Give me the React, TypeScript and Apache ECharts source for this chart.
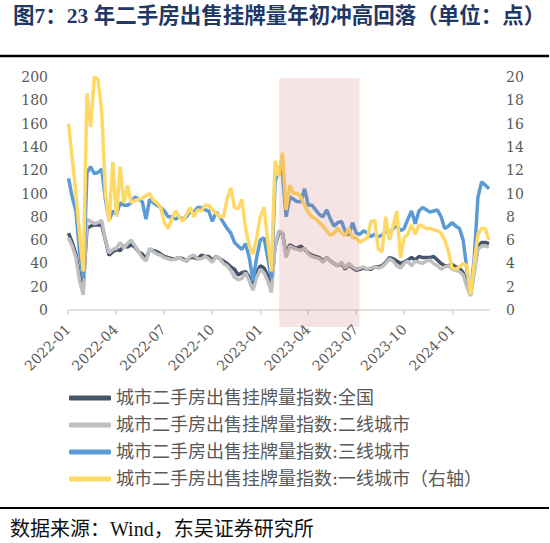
import React, { useEffect, useRef } from "react";
import * as echarts from "echarts";

const startDate = "2022-01-02"; // first weekly observation (Sunday)
const weekCount = 115;

// 城市二手房出售挂牌量指数:全国 (left axis)
const nationalData = [
  66, 58, 48, 30, 20, 70, 72, 73, 73, 73, 60, 47, 50, 52, 51, 55, 54, 56, 54, 50,
  48, 44, 52, 51, 50, 48, 46, 45, 44, 44, 45, 44, 42, 45, 45, 44, 47, 46, 46, 43,
  46, 44, 42, 40, 37, 35, 30, 32, 33, 28, 22, 32, 38, 36, 30, 20, 55, 66, 66, 48,
  56, 54, 53, 55, 52, 49, 47, 46, 45, 42, 45, 42, 40, 38, 40, 35, 39, 36, 34, 35,
  36, 35, 35, 37, 37, 38, 41, 45, 44, 42, 40, 41, 43, 45, 43, 46, 45, 45, 45, 46,
  43, 40, 38, 38, 39, 37, 36, 32, 22, 13, 35, 55, 58, 58, 57,
];

// 城市二手房出售挂牌量指数:二线城市 (left axis)
const tier2Data = [
  62, 55, 45, 25, 13, 78, 76, 74, 75, 77, 60, 49, 52, 53, 58, 53, 57, 60, 55, 50,
  45, 42, 53, 50, 48, 47, 45, 44, 43, 44, 45, 43, 42, 46, 47, 44, 44, 46, 44, 41,
  46, 44, 40, 38, 34, 28, 26, 27, 32, 25, 17, 28, 35, 32, 25, 15, 55, 68, 66, 45,
  55, 53, 52, 51, 53, 48, 46, 45, 44, 41, 45, 42, 40, 38, 41, 36, 40, 37, 35, 36,
  37, 35, 36, 37, 36, 37, 40, 44, 42, 38, 36, 40, 42, 38, 42, 41, 40, 42, 43, 40,
  38, 35, 37, 38, 35, 34, 33, 30, 20, 12, 32, 52, 55, 55, 54,
];

// 城市二手房出售挂牌量指数:三线城市 (left axis)
const tier3Data = [
  113, 97, 85, 50, 27, 118, 123, 117, 118, 121, 95, 77, 85, 82, 92, 90, 90, 92, 97, 95,
  93, 78, 95, 92, 90, 88, 85, 80, 80, 78, 80, 78, 80, 85, 84, 88, 88, 86, 85, 76,
  84, 80, 75, 70, 66, 58, 55, 52, 57, 45, 25, 45, 60, 62, 45, 27, 110, 120, 118, 80,
  97, 95, 93, 93, 104, 90, 90, 86, 82, 80, 86, 78, 72, 75, 76, 68, 64, 75, 66, 65,
  68, 66, 63, 65, 63, 64, 68, 66, 70, 72, 68, 70, 78, 85, 74, 85, 88, 86, 84, 85,
  86, 80, 70, 72, 75, 72, 70, 60, 35, 14, 45, 97, 110, 107, 104,
];

// 城市二手房出售挂牌量指数:一线城市 (right axis)
const tier1Data = [
  16.0, 13.0, 10.0, 6.5, 3.3, 18.6, 15.7, 20.0, 19.8, 17.0, 10.0, 7.6, 12.7, 8.0, 12.3, 9.2, 10.7, 9.2, 9.4, 9.5,
  9.6, 9.8, 10.0, 9.4, 9.2, 8.8, 7.5, 7.0, 7.8, 8.5, 8.0, 7.6, 8.2, 8.8, 8.0, 8.6, 8.5, 9.0, 9.0, 8.6,
  8.3, 8.0, 8.0, 9.5, 10.5, 8.8, 8.7, 9.5, 7.0, 5.5, 4.8, 6.2, 8.0, 8.8, 6.0, 3.3, 12.8, 11.5, 13.5, 8.6,
  10.7, 10.0, 10.0, 9.7, 9.0, 8.4, 8.0, 7.8, 7.5, 7.2, 6.8, 6.4, 6.6, 7.0, 6.6, 6.4, 7.0, 6.2, 6.2, 5.8,
  6.0, 6.2, 7.6, 7.7, 5.2, 5.0, 8.0, 6.0, 7.2, 8.5, 4.5, 6.2, 6.5, 7.3, 6.5, 7.3, 7.2, 7.0, 7.0, 6.9,
  6.8, 6.6, 6.0, 5.0, 3.6, 3.5, 3.7, 4.0, 3.8, 1.3, 4.0, 6.5, 7.0, 7.0, 6.0,
];

const quarterTicks = [
  "2022-01-01", "2022-04-01", "2022-07-01", "2022-10-01",
  "2023-01-01", "2023-04-01", "2023-07-01", "2023-10-01", "2024-01-01",
];
const axisMin = "2022-01-01";
const axisMax = "2024-03-10";
const shadeFrom = "2023-02-06";
const shadeTo = "2023-07-08";

const leftMax = 200;
const rightMax = 20;

const seriesNames = [
  "城市二手房出售挂牌量指数:全国",
  "城市二手房出售挂牌量指数:二线城市",
  "城市二手房出售挂牌量指数:三线城市",
  "城市二手房出售挂牌量指数:一线城市（右轴）",
];
const seriesColors = ["#44546a", "#bfbfbf", "#5b9bd5", "#ffd966"];

const titleText = "图7：23 年二手房出售挂牌量年初冲高回落（单位：点）";
const sourceText = "数据来源：Wind，东吴证券研究所";

const FONT = '"DejaVu Serif", "Noto Sans CJK SC", serif';
const TITLE_FONT = '"Liberation Serif", "Noto Sans CJK SC", serif';

function toTs(s: string): number {
  const [y, m, d] = s.split("-").map(Number);
  return new Date(y, m - 1, d).getTime();
}

function buildWeeks(): number[] {
  const out: number[] = [];
  const t0 = toTs(startDate);
  for (let i = 0; i < weekCount; i++) {
    const d = new Date(t0);
    d.setDate(d.getDate() + 7 * i);
    out.push(d.getTime());
  }
  return out;
}

export default function App() {
  const ref = useRef<HTMLDivElement>(null);

  useEffect(() => {
    if (!ref.current) return;
    const chart = echarts.init(ref.current, null, { renderer: "svg" });
    const weeks = buildWeeks();
    const tickVals = quarterTicks.map(toTs);
    const dataSets = [nationalData, tier2Data, tier3Data, tier1Data];

    const baseGraphic: any[] = [
      {
        type: "text",
        left: 13,
        top: 5,
        style: {
          text: titleText,
          fontFamily: TITLE_FONT,
          fontSize: 21.5,
          fontWeight: "bold",
          fill: "#1f3864",
        },
      },
      {
        type: "line",
        shape: { x1: 0, y1: 56, x2: 549, y2: 56 },
        style: { stroke: "#000", lineWidth: 2.5 },
      },
      {
        type: "line",
        shape: { x1: 0, y1: 508, x2: 549, y2: 508 },
        style: { stroke: "#000", lineWidth: 2 },
      },
      {
        type: "text",
        left: 10,
        top: 519,
        style: {
          text: sourceText,
          fontFamily: TITLE_FONT,
          fontSize: 20,
          fill: "#111",
        },
      },
    ];

    const option: any = {
      animation: false,
      backgroundColor: "#ffffff",
      grid: { left: 68, right: 61, top: 77, bottom: 233 },
      legend: {
        orient: "vertical",
        left: 64,
        top: 384,
        itemWidth: 42,
        itemHeight: 5,
        itemGap: 9,
        icon: "roundRect",
        textStyle: { fontFamily: FONT, fontSize: 18, color: "#595959" },
        data: seriesNames,
      },
      xAxis: {
        type: "value",
        min: toTs(axisMin),
        max: toTs(axisMax),
        axisLine: { show: true, lineStyle: { color: "#d9d9d9", width: 1.5 } },
        axisTick: {
          show: true,
          length: 5,
          lineStyle: { color: "#d9d9d9", width: 1.5 },
          customValues: tickVals,
        },
        splitLine: { show: false },
        axisLabel: {
          customValues: tickVals,
          rotate: 45,
          margin: 17,
          fontFamily: FONT,
          fontSize: 14,
          color: "#595959",
          formatter: (v: number) => {
            const d = new Date(v);
            const m = d.getMonth() + 1;
            return `${d.getFullYear()}-${m < 10 ? "0" + m : m}`;
          },
        },
      },
      yAxis: [
        {
          type: "value",
          min: 0,
          max: leftMax,
          interval: 20,
          axisLine: { show: false },
          axisTick: { show: false },
          splitLine: { show: false },
          axisLabel: { fontFamily: FONT, fontSize: 14, color: "#595959", margin: 20 },
        },
        {
          type: "value",
          min: 0,
          max: rightMax,
          interval: 2,
          position: "right",
          axisLine: { show: false },
          axisTick: { show: false },
          splitLine: { show: false },
          axisLabel: { fontFamily: FONT, fontSize: 14, color: "#595959", margin: 17 },
        },
      ],
      series: seriesNames.map((name, si) => ({
        name,
        type: "line",
        yAxisIndex: si === 3 ? 1 : 0,
        showSymbol: false,
        symbol: "none",
        smooth: false,
        lineStyle: { color: seriesColors[si], width: 3.5 },
        itemStyle: { color: seriesColors[si] },
        z: 2 + si,
        data: weeks.map((t, i) => [t, dataSets[si][i]]),
      })),
      graphic: baseGraphic,
    };

    chart.setOption(option);

    const xa = chart.convertToPixel({ xAxisIndex: 0 }, toTs(shadeFrom)) as number;
    const xb = chart.convertToPixel({ xAxisIndex: 0 }, toTs(shadeTo)) as number;
    const yTop = chart.convertToPixel({ yAxisIndex: 0 }, leftMax) as number;
    const yBase = chart.convertToPixel({ yAxisIndex: 0 }, 0) as number;

    chart.setOption({
      graphic: [
        ...baseGraphic,
        {
          type: "rect",
          z: 100,
          silent: true,
          shape: { x: xa, y: yTop + 1, width: xb - xa, height: yBase + 17 - (yTop + 1) },
          style: { fill: "rgba(200, 90, 90, 0.16)" },
        },
      ],
    });

    return () => chart.dispose();
  }, []);

  return (
    <div
      ref={ref}
      style={{ position: "fixed", left: 0, top: 0, width: 550, height: 543 }}
    />
  );
}
